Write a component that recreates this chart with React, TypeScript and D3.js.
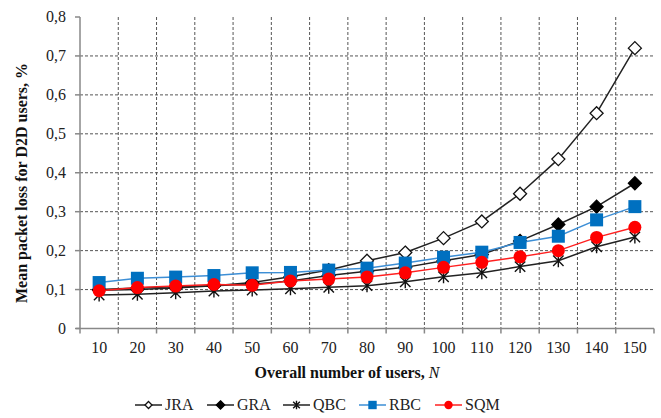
import React, { useEffect, useRef } from "react";
import * as d3 from "d3";

const users = [10, 20, 30, 40, 50, 60, 70, 80, 90, 100, 110, 120, 130, 140, 150];
const jra = [0.098, 0.1, 0.104, 0.11, 0.118, 0.133, 0.15, 0.174, 0.195, 0.232, 0.275, 0.346, 0.435, 0.553, 0.72];
const gra = [0.1, 0.104, 0.107, 0.11, 0.114, 0.122, 0.136, 0.147, 0.157, 0.174, 0.19, 0.225, 0.267, 0.313, 0.373];
const qbc = [0.086, 0.088, 0.092, 0.096, 0.099, 0.102, 0.106, 0.11, 0.12, 0.133, 0.143, 0.159, 0.174, 0.21, 0.235];
const rbc = [0.118, 0.129, 0.132, 0.136, 0.143, 0.144, 0.15, 0.155, 0.168, 0.183, 0.196, 0.221, 0.237, 0.279, 0.313];
const sqm = [0.097, 0.105, 0.109, 0.113, 0.111, 0.122, 0.127, 0.132, 0.143, 0.157, 0.17, 0.184, 0.2, 0.234, 0.26];
const yTicks = [0, 0.1, 0.2, 0.3, 0.4, 0.5, 0.6, 0.7, 0.8];

const series = [
  { name: "JRA", values: jra, line: "#222", marker: "diamondOpen", fill: "#fff", stroke: "#111" },
  { name: "GRA", values: gra, line: "#222", marker: "diamond", fill: "#000", stroke: "#000" },
  { name: "QBC", values: qbc, line: "#222", marker: "star", fill: "none", stroke: "#111" },
  { name: "RBC", values: rbc, line: "#3d8fd6", marker: "square", fill: "#0070c0", stroke: "#0070c0" },
  { name: "SQM", values: sqm, line: "#ff2020", marker: "circle", fill: "#ff0000", stroke: "#ff0000" },
];

function drawMarker(g, type, x, y, r, fill, stroke) {
  if (type === "diamond" || type === "diamondOpen") {
    g.append("path")
      .attr("d", `M${x},${y - r}L${x + r},${y}L${x},${y + r}L${x - r},${y}Z`)
      .attr("fill", fill).attr("stroke", stroke).attr("stroke-width", 1.3);
  } else if (type === "square") {
    g.append("rect").attr("x", x - r).attr("y", y - r).attr("width", 2 * r).attr("height", 2 * r)
      .attr("fill", fill);
  } else if (type === "circle") {
    g.append("circle").attr("cx", x).attr("cy", y).attr("r", r).attr("fill", fill);
  } else {
    const d = r * 0.8;
    g.append("path")
      .attr("d", `M${x},${y - r}L${x},${y + r}M${x - d},${y - d}L${x + d},${y + d}M${x - d},${y + d}L${x + d},${y - d}`)
      .attr("stroke", stroke).attr("stroke-width", 1.4).attr("fill", "none");
  }
}

export default function App() {
  const ref = useRef(null);

  useEffect(() => {
    const svg = d3.select(ref.current);
    svg.selectAll("*").remove();

    const left = 80, right = 654, top = 17, bottom = 328.5;
    const x = d3.scaleBand().domain(users.map(String)).range([left, right]).paddingInner(0).paddingOuter(0);
    const y = d3.scaleLinear().domain([0, 0.8]).range([bottom, top]);
    const cx = (u) => x(String(u)) + x.bandwidth() / 2;
    const font = "'Liberation Serif', 'Times New Roman', serif";

    // grid
    const grid = svg.append("g");
    yTicks.slice(1, -1).forEach((t) => {
      grid.append("line").attr("x1", left).attr("x2", right).attr("y1", y(t)).attr("y2", y(t))
        .attr("stroke", "#555").attr("stroke-dasharray", "3,2").attr("stroke-width", 1);
    });
    users.slice(1).forEach((u) => {
      const xx = x(String(u));
      grid.append("line").attr("x1", xx).attr("x2", xx).attr("y1", top).attr("y2", bottom)
        .attr("stroke", "#555").attr("stroke-dasharray", "3,2").attr("stroke-width", 1);
    });

    // axes
    const ax = svg.append("g").attr("stroke", "#888").attr("stroke-width", 1.5);
    ax.append("line").attr("x1", left).attr("x2", left).attr("y1", top).attr("y2", bottom + 5);
    ax.append("line").attr("x1", left - 4).attr("x2", right).attr("y1", bottom).attr("y2", bottom);
    yTicks.forEach((t) => {
      ax.append("line").attr("x1", left - 5).attr("x2", left).attr("y1", y(t)).attr("y2", y(t));
    });
    users.forEach((u) => {
      const xx = x(String(u)) + x.bandwidth();
      ax.append("line").attr("x1", xx).attr("x2", xx).attr("y1", bottom).attr("y2", bottom + 5);
    });

    // tick labels
    svg.append("g").selectAll("text").data(yTicks).join("text")
      .attr("x", 66).attr("y", (d) => y(d) + 5)
      .attr("text-anchor", "end").attr("font-family", font).attr("font-size", 16).attr("fill", "#222")
      .text((d) => (d === 0 ? "0" : d3.format(".1f")(d).replace(".", ",")));

    svg.append("g").selectAll("text").data(users).join("text")
      .attr("x", (d) => cx(d)).attr("y", 353)
      .attr("text-anchor", "middle").attr("font-family", font).attr("font-size", 16).attr("fill", "#222")
      .text((d) => d);

    // titles
    const xt = svg.append("text").attr("x", 347).attr("y", 378).attr("text-anchor", "middle")
      .attr("font-family", font).attr("font-size", 16).attr("font-weight", "bold").attr("fill", "#111");
    xt.append("tspan").text("Overall number of users, ");
    xt.append("tspan").attr("font-style", "italic").attr("font-weight", "normal").text("N");

    svg.append("text").attr("transform", "translate(27,183) rotate(-90)").attr("text-anchor", "middle")
      .attr("font-family", font).attr("font-size", 16).attr("font-weight", "bold").attr("fill", "#111")
      .text("Mean packet loss for D2D users, %");

    // series
    const line = d3.line().x((d, i) => cx(users[i])).y((d) => y(d));
    series.forEach((s) => {
      const g = svg.append("g");
      g.append("path").attr("d", line(s.values)).attr("fill", "none")
        .attr("stroke", s.line).attr("stroke-width", 1.5);
      s.values.forEach((v, i) => {
        drawMarker(g, s.marker, cx(users[i]), y(v), s.marker === "circle" ? 6.5 : 6.5, s.fill, s.stroke);
      });
    });

    // legend
    const legendX = [135, 207, 283, 359, 435];
    const ly = 405;
    series.forEach((s, i) => {
      const g = svg.append("g");
      const lx = legendX[i];
      g.append("line").attr("x1", lx).attr("x2", lx + 27).attr("y1", ly).attr("y2", ly)
        .attr("stroke", s.line).attr("stroke-width", 1.5);
      drawMarker(g, s.marker, lx + 13.5, ly, s.marker === "diamondOpen" ? 3.5 : 4.2, s.fill, s.stroke);
      g.append("text").attr("x", lx + 30).attr("y", ly + 5).attr("font-family", font)
        .attr("font-size", 16).attr("fill", "#222").text(s.name);
    });
  }, []);

  return (
    <svg ref={ref} width={661} height={418}
      style={{ position: "absolute", left: 0, top: 0, background: "#fff" }} />
  );
}
